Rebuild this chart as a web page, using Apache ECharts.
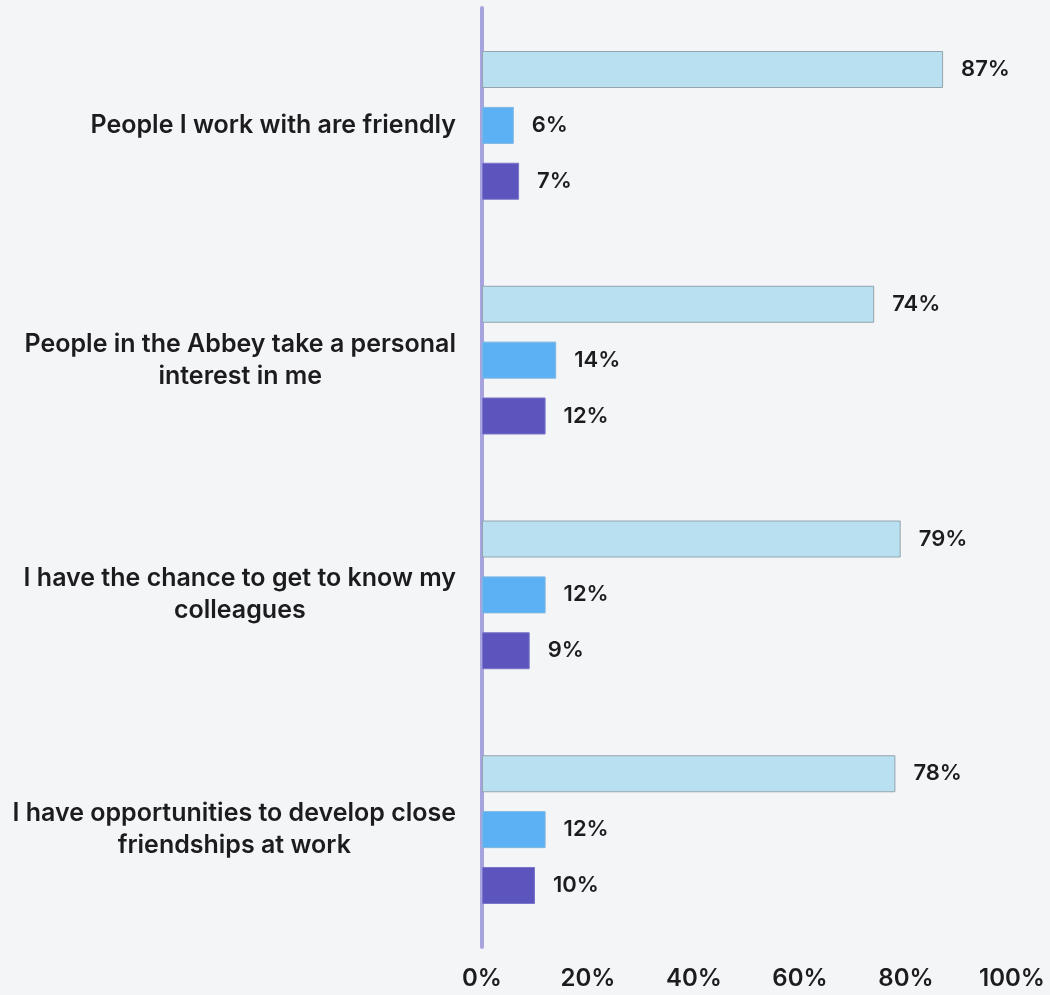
<!DOCTYPE html>
<html>
<head>
<meta charset="utf-8">
<script src="https://cdn.jsdelivr.net/npm/echarts@6/dist/echarts.min.js"></script>
<style>
  html, body { margin: 0; padding: 0; background: #f4f5f7; }
  #chart { width: 1050px; height: 995px; }
</style>
</head>
<body>
<div id="chart"></div>
<script>
// Statements, one per row (top to bottom)
const categories = [
  'People I work with are friendly',
  'People in the Abbey take a personal\ninterest in me',
  'I have the chance to get to know my\ncolleagues',
  'I have opportunities to develop close\nfriendships at work'
];
// Three response groups per statement (percent)
const seriesA = [87, 74, 79, 78];
const seriesB = [6, 14, 12, 12];
const seriesC = [7, 12, 9, 10];
const tickValues = [0, 20, 40, 60, 80, 100];

const FONT = 'Inter, "Noto Sans", sans-serif';
const TEXT = '#1c1c1e';

const valueLabel = {
  show: true,
  position: 'right',
  distance: 18,
  formatter: p => p.value + '%',
  color: TEXT,
  fontFamily: FONT,
  fontWeight: 600,
  fontSize: 22
};

const chart = echarts.init(document.getElementById('chart'));
chart.setOption({
  backgroundColor: '#f4f5f7',
  animation: false,
  grid: { left: 482, right: 38, top: 8, bottom: 48, containLabel: false },
  xAxis: {
    type: 'value',
    min: 0,
    max: 100,
    interval: 20,
    axisLine: { show: false },
    axisTick: { show: false },
    splitLine: { show: false },
    axisLabel: {
      margin: 20,
      color: TEXT,
      fontFamily: FONT,
      fontWeight: 600,
      fontSize: 24,
      formatter: v => tickValues.includes(v) ? v + '%' : ''
    }
  },
  yAxis: {
    type: 'category',
    inverse: true,
    data: categories,
    axisLine: { show: true, lineStyle: { color: '#a6a3df', width: 4 } },
    axisTick: { show: false },
    axisLabel: {
      margin: 26,
      color: TEXT,
      fontFamily: FONT,
      fontWeight: 600,
      fontSize: 25,
      lineHeight: 32,
      formatter: v => v.split('\n').map(l => '{c|' + l + '}').join('\n'),
      rich: {
        c: {
          align: 'center',
          color: TEXT,
          fontFamily: FONT,
          fontWeight: 600,
          fontSize: 25,
          lineHeight: 32
        }
      }
    }
  },
  series: [
    {
      type: 'bar',
      data: seriesA,
      barWidth: 37,
      barGap: '51%',
      itemStyle: { color: '#b9e0f1', borderColor: '#93a4ad', borderWidth: 1 },
      label: valueLabel
    },
    {
      type: 'bar',
      data: seriesB,
      barWidth: 37,
      barGap: '51%',
      itemStyle: { color: '#5bb1f4', borderColor: '#7fb6e0', borderWidth: 1 },
      label: valueLabel
    },
    {
      type: 'bar',
      data: seriesC,
      barWidth: 37,
      barGap: '51%',
      itemStyle: { color: '#5c55be', borderColor: '#7a76c9', borderWidth: 1 },
      label: valueLabel
    }
  ]
});
</script>
</body>
</html>
